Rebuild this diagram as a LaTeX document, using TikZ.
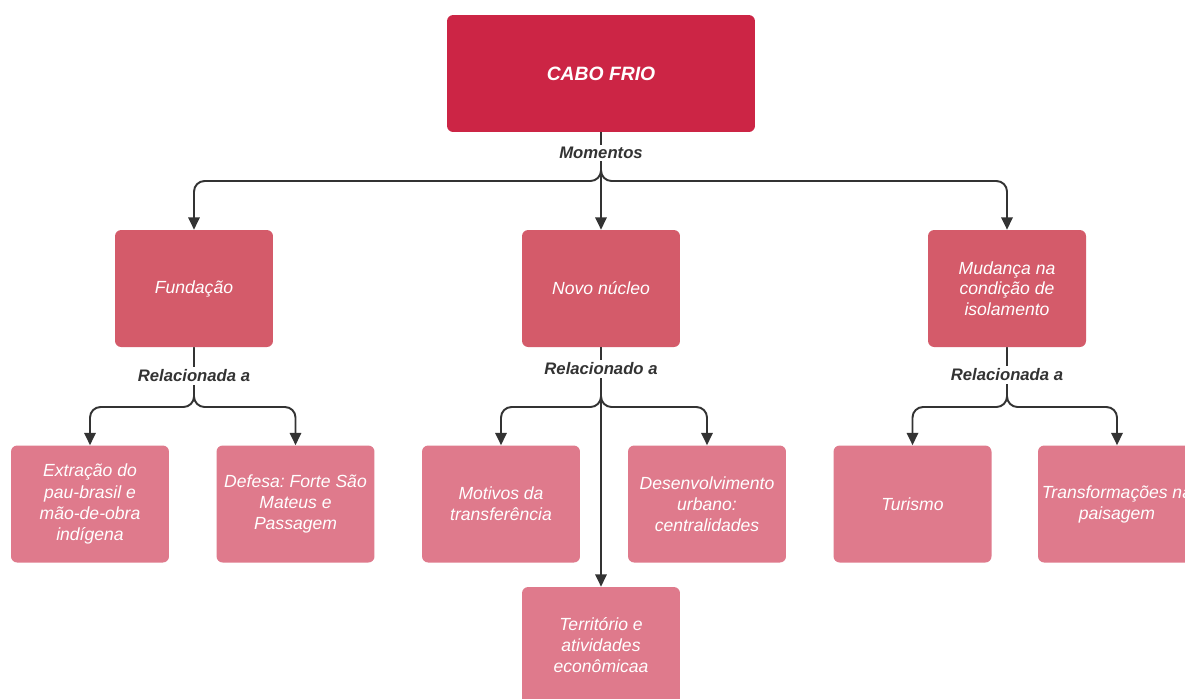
\documentclass[tikz,border=0pt]{standalone}
\usepackage{fontspec}
\setmainfont{Liberation Sans}
\usetikzlibrary{arrows.meta}
\frenchspacing
\definecolor{cTop}{HTML}{CC2545}
\definecolor{cMid}{HTML}{D45B6A}
\definecolor{cLow}{HTML}{DF7A8C}
\definecolor{cLine}{HTML}{333333}
\tikzset{
  basebox/.style={rounded corners=3.5pt, align=center, text=white, inner sep=0pt,
    minimum height=2.34cm},
  topbox/.style={basebox, fill=cTop, minimum width=6.16cm,
    font=\bfseries\itshape\fontsize{11}{13}\selectfont},
  midbox/.style={basebox, fill=cMid, minimum width=3.16cm,
    font=\itshape\fontsize{10}{11.5}\selectfont},
  lowbox/.style={basebox, fill=cLow, minimum width=3.16cm,
    font=\itshape\fontsize{10}{12}\selectfont},
  conn/.style={draw=cLine, line width=1.1pt, rounded corners=6pt,
    -{Triangle[length=7pt,width=6.5pt]}},
  lbl/.style={fill=white, inner sep=1.5pt, text=cLine,
    font=\bfseries\itshape\fontsize{9.5}{11}\selectfont}
}
\begin{document}
\begin{tikzpicture}[x=0.02cm,y=-0.02cm]
\useasboundingbox (0,0) rectangle (1185,698);
\fill[white] (0,0) rectangle (1185,698);
\clip (0,0) rectangle (1185,698);

% nodes
\node[topbox] (cabo) at (601,73.5) {CABO FRIO};
\node[midbox] (fund) at (194,288.5) {Fundação};
\node[midbox] (novo) at (601,288.5) {Novo núcleo};
\node[midbox] (mud) at (1007,288.5) {Mudança na\\condição de\\isolamento};

\node[lowbox] (ext) at (90,504) {Extração do\\pau-brasil e\\mão-de-obra\\indígena};
\node[lowbox] (def) at (295.5,504) {Defesa: Forte São\\Mateus e\\Passagem};
\node[lowbox] (mot) at (501,504) {Motivos da\\transferência};
\node[lowbox] (des) at (707,504) {Desenvolvimento\\urbano:\\centralidades};
\node[lowbox] (tur) at (912.5,504) {Turismo};
\node[lowbox] (tra) at (1117,504) {Transformações na\\paisagem};
\node[lowbox] (ter) at (601,645.5) {Território e\\atividades\\econômicaa};

% junctions
\coordinate (j0) at (601,181);
\coordinate (j1) at (194,407);
\coordinate (j2) at (601,407);
\coordinate (j3) at (1007,407);

% connectors level 1
\draw[conn] (cabo.south) -- (j0) -- (fund.north |- j0) -- (fund.north);
\draw[conn] (cabo.south) -- (novo.north);
\draw[conn] (cabo.south) -- (j0) -- (mud.north |- j0) -- (mud.north);

% connectors level 2
\draw[conn] (fund.south) -- (j1) -- (ext.north |- j1) -- (ext.north);
\draw[conn] (fund.south) -- (j1) -- (def.north |- j1) -- (def.north);
\draw[conn] (novo.south) -- (j2) -- (mot.north |- j2) -- (mot.north);
\draw[conn] (novo.south) -- (j2) -- (des.north |- j2) -- (des.north);
\draw[conn] (novo.south) -- (ter.north);
\draw[conn] (mud.south) -- (j3) -- (tur.north |- j3) -- (tur.north);
\draw[conn] (mud.south) -- (j3) -- (tra.north |- j3) -- (tra.north);

% labels
\node[lbl] (l0) at (601,153) {Momentos};
\node[lbl] (l1) at (194,376) {Relacionada a};
\node[lbl] (l2) at (601,369) {Relacionado a};
\node[lbl] (l3) at (1007,375) {Relacionada a};
\end{tikzpicture}
\end{document}
